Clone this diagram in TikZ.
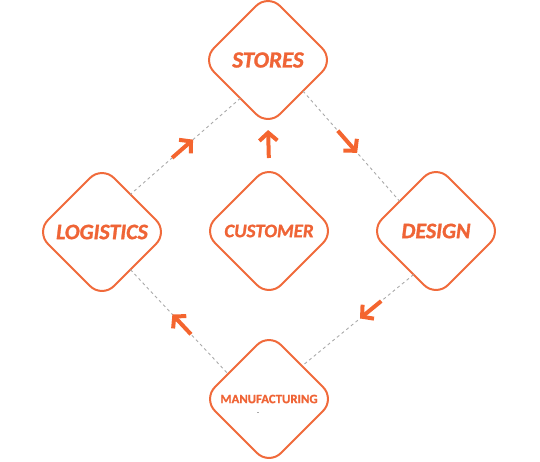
\documentclass[tikz,border=0pt]{standalone}
\usepackage{fontspec}
\setmainfont{Carlito}
\newfontfamily\labfont{Carlito}[UprightFont={* Bold Italic}, FakeBold=1.3]
\newfontfamily\labupfont{Carlito}[UprightFont={* Bold}, FakeBold=1.0]
\usetikzlibrary{shapes.geometric,arrows.meta,calc}
\definecolor{orng}{HTML}{F06A3B}
\definecolor{txtc}{HTML}{EF6436}
\definecolor{arrc}{HTML}{F4652F}
\definecolor{dgray}{HTML}{AAAAAA}
\begin{document}
\begin{tikzpicture}[x=1pt,y=-1pt,
  dbox/.style={shape=diamond, draw=orng, line width=2pt, rounded corners=17pt,
    minimum width=132pt, minimum height=132pt, inner sep=0pt, outer sep=0pt,
    text=txtc, align=center},
  link/.style={draw=dgray, line width=0.9pt, dash pattern=on 3pt off 3pt},
  arr/.style={draw=arrc, line width=4pt, -{Straight Barb[length=8pt,width=18pt,line width=4pt]}}]
\useasboundingbox (0,0) rectangle (540,461);

\node[dbox, font=\labfont\fontsize{23}{23}\selectfont] (stores) at (268,60) {STORES};
\node[dbox, font=\labfont\fontsize{22}{22}\selectfont] (logistics) at (102,232) {LOGISTICS};
\node[dbox, font=\labfont\fontsize{19}{19}\selectfont] (customer) at (269,231) {CUSTOMER};
\node[dbox, font=\labfont\fontsize{22}{22}\selectfont] (design) at (436,231) {DESIGN};
\node[dbox, font=\labupfont\fontsize{12.8}{13}\selectfont] (manuf) at (269,399) {MANUFACTURING};

\coordinate (sl) at ($(stores.west)!0.58!(stores.south)$);
\coordinate (ls) at ($(logistics.north)!0.43!(logistics.east)$);
\coordinate (sd) at ($(stores.south)!0.53!(stores.east)$);
\coordinate (ds) at ($(design.west)!0.45!(design.north)$);
\coordinate (dm) at ($(design.west)!0.66!(design.south)$);
\coordinate (md) at ($(manuf.north)!0.5!(manuf.east)$);
\coordinate (lm) at ($(logistics.east)!0.57!(logistics.south)$);
\coordinate (ml) at ($(manuf.north)!0.62!(manuf.west)$);

\draw[link] (sl) -- (ls);
\draw[link] (sd) -- (ds);
\draw[link] (dm) -- (md);
\draw[link] (lm) -- (ml);

\draw[arr] ($(sl)!0.62!(ls)$) -- ($(sl)!0.43!(ls)$);
\draw[arr] ($(sd)!0.36!(ds)$) -- ($(sd)!0.56!(ds)$);
\draw[arr] ($(dm)!0.29!(md)$) -- ($(dm)!0.48!(md)$);
\draw[arr] ($(lm)!0.62!(ml)$) -- ($(lm)!0.43!(ml)$);
\draw[arr, shorten <=7pt, shorten >=4pt] (customer.north) -- (stores.south);

\fill[dgray] (257,411.5) rectangle (259,412.5);
\end{tikzpicture}
\end{document}
